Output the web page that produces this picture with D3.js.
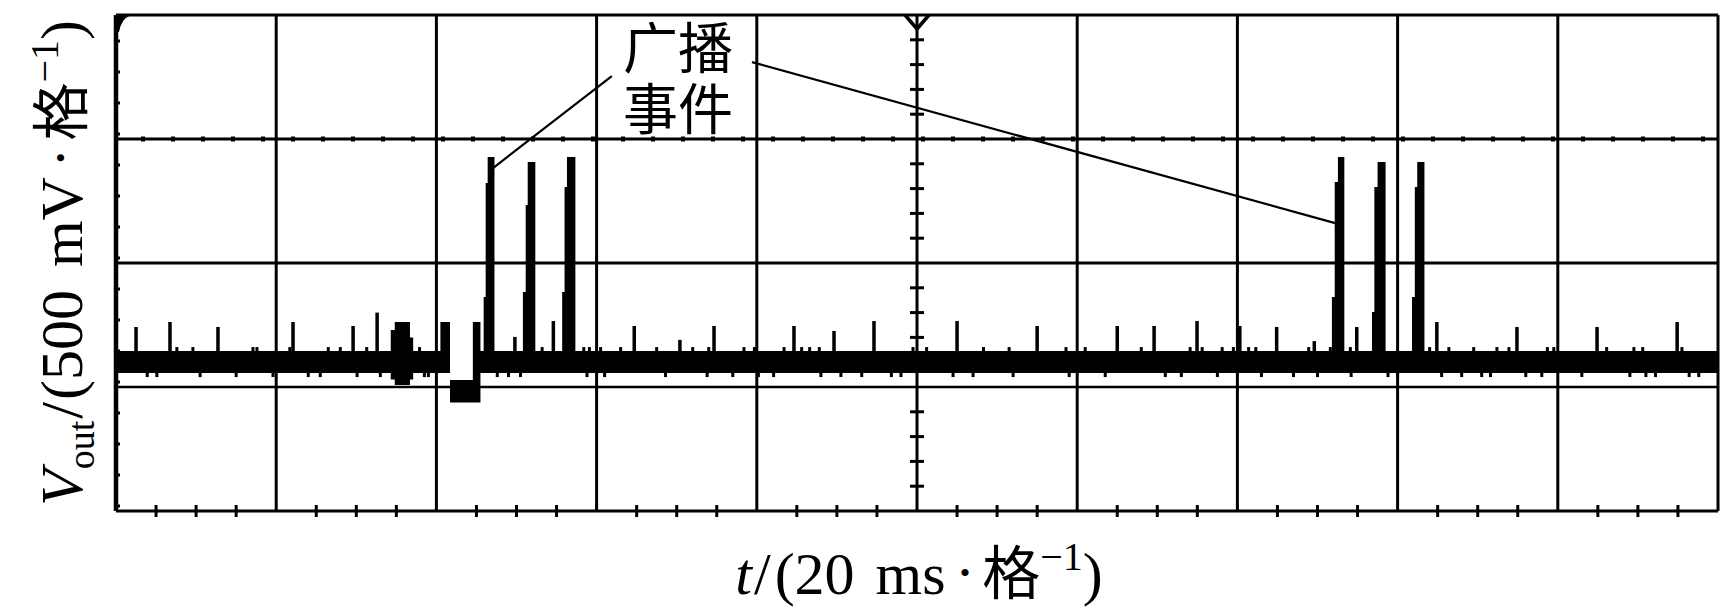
<!DOCTYPE html>
<html><head><meta charset="utf-8">
<script src="https://cdn.jsdelivr.net/npm/d3@7/dist/d3.min.js"></script>
<style>html,body{margin:0;padding:0;background:#fff;} svg{display:block;}</style>
</head><body>
<svg id="chart" width="1729" height="613"></svg>
<script>
// ---- axis settings (20 ms/div horizontally, 500 mV/div vertically) ----
const tDomain = [0, 200];
const vDomain = [0, 2];
const xDivisionTicks = d3.range(0, 201, 20);
const yDivisionTicks = [0, 0.5, 1, 1.5, 2];
const xLabelParts = ["t", "/", "(20 ms", "•", "格", "−1", ")"];
const yLabelParts = ["V", "out", "/", "(500 mV", "•", "格", "−1", ")"];
const annotationLines = ["广播", "事件"];

// ---- trace envelope breakpoints: [t (ms), low (V), high (V)], step-after ----
const envelope = [
  [0, 0.556, 0.645],
  [34.3, 0.53, 0.73],
  [34.8, 0.508, 0.762],
  [36.7, 0.53, 0.70],
  [37.1, 0.556, 0.645],
  [40.5, 0.556, 0.762],
  [41.7, 0.437, 0.528],
  [44.55, 0.437, 0.762],
  [45.5, 0.556, 0.645],
  [45.9, 0.556, 0.863],
  [46.15, 0.556, 1.323],
  [46.4, 0.556, 1.427],
  [47.25, 0.556, 0.645],
  [50.8, 0.556, 0.883],
  [51.15, 0.556, 1.234],
  [51.4, 0.556, 1.407],
  [52.35, 0.556, 0.645],
  [55.7, 0.556, 0.883],
  [56.0, 0.556, 1.306],
  [56.3, 0.556, 1.427],
  [57.35, 0.556, 0.645],
  [151.8, 0.556, 0.863],
  [152.15, 0.556, 1.327],
  [152.55, 0.556, 1.427],
  [153.35, 0.556, 0.645],
  [156.8, 0.556, 0.802],
  [157.1, 0.556, 1.306],
  [157.5, 0.556, 1.407],
  [158.5, 0.556, 0.645],
  [161.8, 0.556, 0.863],
  [162.15, 0.556, 1.306],
  [162.45, 0.556, 1.407],
  [163.35, 0.556, 0.645],
  [200, 0.556, 0.645]
];

// isolated noise spikes above the baseline: [t (ms), peak (V)]
const noiseSpikes = [
  [2.5, 0.742], [6.74, 0.762], [12.73, 0.742], [22.1, 0.762], [29.6, 0.746],
  [32.6, 0.80], [49.8, 0.702], [54.6, 0.766], [64.7, 0.746], [70.4, 0.69],
  [74.66, 0.746], [84.64, 0.746], [89.64, 0.726], [94.63, 0.766], [105.0, 0.766],
  [115.0, 0.746], [125.0, 0.746], [129.6, 0.746], [134.96, 0.766], [140.3, 0.746],
  [144.9, 0.742], [149.6, 0.685], [154.9, 0.742], [164.9, 0.762], [174.9, 0.742],
  [184.9, 0.742], [194.9, 0.762]
];
// small ripples on top of the band (t in ms), peak about 0.661 V
const smallSpikes = [
  7.6, 9.6, 17.1, 17.6, 21.7, 26.5, 28.0, 31.3, 37.9, 53.2, 58.4, 59.1, 60.5, 63.0,
  67.5, 72.0, 74.0, 78.4, 79.7, 83.4, 85.6, 86.6, 87.8, 99.5, 101.2, 108.3, 111.5,
  118.6, 121.0, 128.0, 134.1, 135.6, 138.1, 139.5, 141.4, 142.3, 148.9, 151.6, 154.1,
  164.0, 166.4, 169.5, 172.4, 173.9, 178.7, 179.5, 186.1, 189.5, 190.6, 195.5
];
const smallSpikePeak = 0.661;
// downward ripples below the band (t in ms), trough about 0.54 V
const downSpikes = [
  3.9, 5.1, 10.5, 15.0, 19.6, 24.0, 25.5, 30.1, 33.0, 38.5, 39.0, 47.6, 49.0, 50.5,
  58.8, 61.0, 68.6, 73.8, 77.0, 80.2, 82.1, 88.0, 90.5, 93.1, 96.8, 98.0, 104.5,
  107.0, 112.0, 119.0, 123.5, 131.0, 133.0, 137.5, 143.0, 147.0, 150.0, 154.2,
  158.8, 160.0, 165.5, 168.0, 170.5, 171.6, 176.0, 178.0, 183.0, 189.0, 191.0,
  192.2, 196.4, 197.6
];
const downSpikeTrough = 0.54;
const baselineLevel = 0.60;

// annotation leader lines: [start t, start v, end t, end v]
const leaderLines = [
  [61.9, 1.754, 47.07, 1.383],
  [79.4, 1.810, 152.2, 1.161]
];
const annotationAnchor = [63.3, 1.786]; // first text line baseline (t, v)

// ---- drawing ----
const svg = d3.select("#chart");
const W = 1729, H = 613;
svg.append("rect").attr("width", W).attr("height", H).attr("fill", "#fff");

const x = d3.scaleLinear().domain(tDomain).range([116, 1718]);
const y = d3.scaleLinear().domain(vDomain).range([511, 15]);

const grid = svg.append("g").attr("stroke", "#000").attr("fill", "none");
grid.selectAll("line.v").data(xDivisionTicks).join("line")
  .attr("x1", d => x(d)).attr("x2", d => x(d))
  .attr("y1", y(vDomain[1])).attr("y2", y(vDomain[0]))
  .attr("stroke-width", (d, i) => i === 0 ? 4.5 : 3);
grid.selectAll("line.h").data(yDivisionTicks).join("line")
  .attr("x1", x(tDomain[0])).attr("x2", x(tDomain[1]))
  .attr("y1", d => y(d)).attr("y2", d => y(d))
  .attr("stroke-width", d => (d === 0.5 ? 2.5 : 3));

// dots along the 1.5 V line
const dotXs = d3.range(x(0) + 27, x(200), 30);
svg.append("g").selectAll("rect").data(dotXs).join("rect")
  .attr("x", d => d - 2).attr("y", y(1.5) - 2.5).attr("width", 4).attr("height", 5)
  .attr("fill", "#000");

// small bumps on left edge
const bumpYs = d3.range(y(2) + 26, y(0), 31);
svg.append("g").selectAll("rect").data(bumpYs).join("rect")
  .attr("x", x(0)).attr("y", d => d - 1.5).attr("width", 4).attr("height", 3)
  .attr("fill", "#000");

// centre vertical axis minor ticks (0.1 V steps)
const centerT = 100;
const vMinor = d3.range(0, 2.0001, 0.1).filter(v => Math.abs(v * 2 - Math.round(v * 2)) > 1e-6);
grid.selectAll("line.cm").data(vMinor).join("line")
  .attr("x1", x(centerT) - 7).attr("x2", x(centerT) + 7)
  .attr("y1", d => y(d)).attr("y2", d => y(d)).attr("stroke-width", 3);

// bottom edge minor ticks (5 ms steps)
const tMinor = d3.range(0, 200.001, 5).filter(t => t % 20 !== 0);
grid.selectAll("line.bm").data(tMinor).join("line")
  .attr("x1", d => x(d)).attr("x2", d => x(d))
  .attr("y1", y(0) - 6).attr("y2", y(0) + 6).attr("stroke-width", 3);

// trigger marker at top centre
svg.append("path")
  .attr("d", `M${x(centerT) - 12},${y(2)} L${x(centerT)},${y(2) + 14} L${x(centerT) + 12},${y(2)}`)
  .attr("fill", "none").attr("stroke", "#000").attr("stroke-width", 3.5);
// channel marker at top-left corner
svg.append("path")
  .attr("d", `M${x(0)},${y(2)} L${x(0) + 15},${y(2)} Q${x(0) + 5},${y(2) + 4} ${x(0) + 3},${y(2) + 17} L${x(0)},${y(2) + 17} Z`)
  .attr("fill", "#000");

// ---- trace ----
const trace = svg.append("g").attr("fill", "#000");
const area = d3.area()
  .x(d => x(d[0])).y0(d => y(d[1])).y1(d => y(d[2]))
  .curve(d3.curveStepAfter);
trace.append("path").datum(envelope).attr("d", area);

trace.selectAll("rect.ns").data(noiseSpikes).join("rect")
  .attr("x", d => x(d[0]) - 1.75).attr("width", 3.5)
  .attr("y", d => y(d[1])).attr("height", d => y(baselineLevel) - y(d[1]));
trace.selectAll("rect.ss").data(smallSpikes).join("rect")
  .attr("x", d => x(d) - 1.5).attr("width", 3)
  .attr("y", y(smallSpikePeak)).attr("height", y(baselineLevel) - y(smallSpikePeak));
trace.selectAll("rect.ds").data(downSpikes).join("rect")
  .attr("x", d => x(d) - 1.5).attr("width", 3)
  .attr("y", y(baselineLevel)).attr("height", y(downSpikeTrough) - y(baselineLevel));

// ---- annotation ----
svg.append("g").selectAll("line").data(leaderLines).join("line")
  .attr("x1", d => x(d[0])).attr("y1", d => y(d[1]))
  .attr("x2", d => x(d[2])).attr("y2", d => y(d[3]))
  .attr("stroke", "#000").attr("stroke-width", 2.2);
const ann = svg.append("text")
  .attr("font-family", "'Noto Sans CJK SC', sans-serif")
  .attr("font-size", 55).attr("fill", "#000");
ann.selectAll("tspan").data(annotationLines).join("tspan")
  .attr("x", x(annotationAnchor[0]))
  .attr("y", (d, i) => y(annotationAnchor[1]) + i * 61)
  .text(d => d);

// ---- axis labels ----
const serif = "'Liberation Serif', 'Times New Roman', serif";
const cjk = "'Noto Sans CJK SC', sans-serif";
const xl = svg.append("text")
  .attr("x", x(centerT) + 2).attr("y", 594)
  .attr("text-anchor", "middle").attr("font-family", serif)
  .attr("font-size", 60).attr("fill", "#000");
xl.append("tspan").attr("font-style", "italic").text(xLabelParts[0]);
xl.append("tspan").attr("dx", 2).text(xLabelParts[1]);
xl.append("tspan").attr("dx", 4).attr("word-spacing", 6).text(xLabelParts[2]);
xl.append("tspan").attr("dx", 14).attr("font-size", 30).attr("dy", -11).text(xLabelParts[3]);
xl.append("tspan").attr("dx", 12).attr("dy", 11).attr("font-family", cjk).attr("font-size", 58).text(xLabelParts[4]);
xl.append("tspan").attr("font-size", 40).attr("dy", -24).text(xLabelParts[5]);
xl.append("tspan").attr("dy", 24).text(xLabelParts[6]);

const yl = svg.append("text")
  .attr("transform", `translate(82,${(y(0) + y(2)) / 2}) rotate(-90)`)
  .attr("text-anchor", "middle").attr("font-family", serif)
  .attr("font-size", 60).attr("fill", "#000");
yl.append("tspan").attr("font-style", "italic").text(yLabelParts[0]);
yl.append("tspan").attr("font-size", 38).attr("dy", 12).text(yLabelParts[1]);
yl.append("tspan").attr("dx", 2).attr("dy", -12).text(yLabelParts[2]);
yl.append("tspan").attr("dx", 2).attr("word-spacing", 8).text(yLabelParts[3]);
yl.append("tspan").attr("dx", 14).attr("font-size", 30).attr("dy", -11).text(yLabelParts[4]);
yl.append("tspan").attr("dx", 12).attr("dy", 11).attr("font-family", cjk).attr("font-size", 58).text(yLabelParts[5]);
yl.append("tspan").attr("font-size", 40).attr("dy", -24).text(yLabelParts[6]);
yl.append("tspan").attr("dy", 24).text(yLabelParts[7]);
</script>
</body></html>
